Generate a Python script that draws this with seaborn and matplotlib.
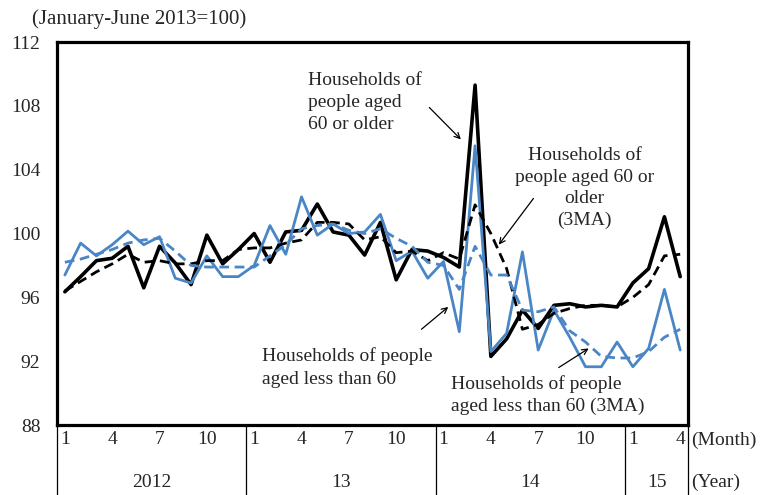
import numpy as np
import pandas as pd
import matplotlib
matplotlib.use("Agg")
import matplotlib.pyplot as plt
import matplotlib.transforms as mtransforms
import seaborn as sns

# Jan 2012 .. Apr 2015, monthly index (Jan-Jun 2013 = 100)
months = [1, 2, 3, 4, 5, 6, 7, 8, 9, 10, 11, 12] * 3 + [1, 2, 3, 4]
years = [2012] * 12 + [2013] * 12 + [2014] * 12 + [2015] * 4
year_labels = ["2012", "13", "14", "15"]

older = [96.35, 97.3, 98.3, 98.45, 99.2, 96.6, 99.2, 98.15, 96.8, 99.9,
         98.1, 99.0, 100.0, 98.2, 100.1, 100.2, 101.85, 100.1, 99.9, 98.65,
         100.7, 97.1, 99.0, 98.9, 98.5, 97.9, 109.3, 92.3, 93.4, 95.2,
         94.05, 95.5, 95.6, 95.4, 95.5, 95.4, 96.9, 97.8, 101.05, 97.3]
older_3ma = [96.4, 97.0, 97.6, 98.1, 98.7, 98.2, 98.3, 98.1, 98.1, 98.3,
             98.3, 99.0, 99.1, 99.1, 99.4, 99.6, 100.7, 100.7, 100.6, 99.6,
             99.8, 98.8, 98.9, 98.3, 98.8, 98.4, 101.8, 100.0, 97.8, 94.0,
             94.3, 95.0, 95.3, 95.5, 95.5, 95.4, 96.0, 96.8, 98.6, 98.7]
younger = [97.4, 99.4, 98.6, 99.3, 100.15, 99.3, 99.8, 97.2, 96.9, 98.6,
           97.3, 97.3, 98.0, 100.5, 98.7, 102.3, 99.9, 100.6, 100.0, 100.1,
           101.2, 98.3, 98.9, 97.2, 98.25, 93.85, 105.5, 92.6, 93.75, 98.85,
           92.7, 95.2, 93.5, 91.65, 91.65, 93.2, 91.65, 92.8, 96.5, 92.7]
younger_3ma = [98.2, 98.4, 98.7, 99.0, 99.4, 99.6, 99.7, 98.9, 98.0, 97.9,
               97.9, 97.9, 97.9, 98.6, 99.3, 100.3, 100.5, 100.6, 100.2, 100.0,
               100.3, 99.7, 99.2, 98.2, 98.0, 96.5, 99.2, 97.4, 97.4, 95.2,
               95.1, 95.4, 93.9, 93.2, 92.3, 92.2, 92.2, 92.6, 93.5, 94.0]

df = pd.DataFrame({"t": np.arange(len(months)), "older": older, "older_3ma": older_3ma,
                   "younger": younger, "younger_3ma": younger_3ma})

sns.set_style("white")
plt.rcParams["font.family"] = ["Liberation Serif", "DejaVu Serif"]

blue = "#4A86C5"
fig = plt.figure(figsize=(7.74, 4.95), dpi=100)
ax = fig.add_axes([0.0736, 0.1414, 0.8154, 0.7736])

sns.lineplot(data=df, x="t", y="older", color="black", lw=2.6, ax=ax)
sns.lineplot(data=df, x="t", y="younger", color=blue, lw=2.0, ax=ax)
sns.lineplot(data=df, x="t", y="older_3ma", color="black", lw=2.0, ax=ax,
             dashes=False, linestyle=(0, (3.5, 2)))
sns.lineplot(data=df, x="t", y="younger_3ma", color=blue, lw=2.0, ax=ax,
             dashes=False, linestyle=(0, (3.5, 2)))

ax.set_xlim(-0.5, len(months) - 0.5)
ax.set_ylim(88, 112)
ax.set_yticks(np.arange(88, 113, 4))
ax.tick_params(axis="y", length=0, pad=12, labelsize=14)
ax.set_xticks([])
ax.set_xlabel("")
ax.set_ylabel("")
for s in ax.spines.values():
    s.set_linewidth(2.3)
    s.set_color("black")

# month / year table under the axis
trans = mtransforms.blended_transform_factory(ax.transData, ax.transAxes)
for i, m in enumerate(months):
    if m in (1, 4, 7, 10):
        ax.text(i, -0.039, str(m), transform=trans, ha="center", va="center", fontsize=14)
starts = [i for i in range(len(years)) if i == 0 or years[i] != years[i - 1]]
edges = starts + [len(years)]
for k, lab in enumerate(year_labels):
    mid = (edges[k] + edges[k + 1] - 1) / 2
    ax.text(mid, -0.151, lab, transform=trans, ha="center", va="center", fontsize=14)
for e in edges:
    ax.plot([e - 0.5, e - 0.5], [0, -0.19], transform=trans, color="black",
            lw=0.9, clip_on=False)
ax.text(1.005, -0.039, "(Month)", transform=ax.transAxes, ha="left", va="center", fontsize=14)
ax.text(1.005, -0.151, "(Year)", transform=ax.transAxes, ha="left", va="center", fontsize=14)

fig.text(0.041, 0.962, "(January-June 2013=100)", ha="left", va="center", fontsize=15)

# annotations
arrow = dict(arrowstyle="->", color="black", lw=0.9, shrinkA=0, shrinkB=0)
ax.annotate("", xy=(25.1, 105.9), xytext=(23.1, 107.9), arrowprops=arrow)
ax.annotate("", xy=(27.5, 99.3), xytext=(29.7, 102.2), arrowprops=arrow)
ax.annotate("", xy=(24.3, 95.4), xytext=(22.6, 94.0), arrowprops=arrow)
ax.annotate("", xy=(33.2, 92.8), xytext=(31.3, 91.6), arrowprops=arrow)

ax.text(15.4, 110.15, "Households of\npeople aged\n60 or older", ha="left", va="top",
        fontsize=14, linespacing=1.4)
ax.text(32.95, 105.4, "Households of\npeople aged 60 or\nolder\n(3MA)", ha="center",
        va="top", fontsize=14, linespacing=1.35)
ax.text(12.5, 92.85, "Households of people\naged less than 60", ha="left", va="top",
        fontsize=14, linespacing=1.4)
ax.text(24.5, 91.1, "Households of people\naged less than 60 (3MA)", ha="left", va="top",
        fontsize=14, linespacing=1.3)

fig.savefig("out.png", dpi=100)
